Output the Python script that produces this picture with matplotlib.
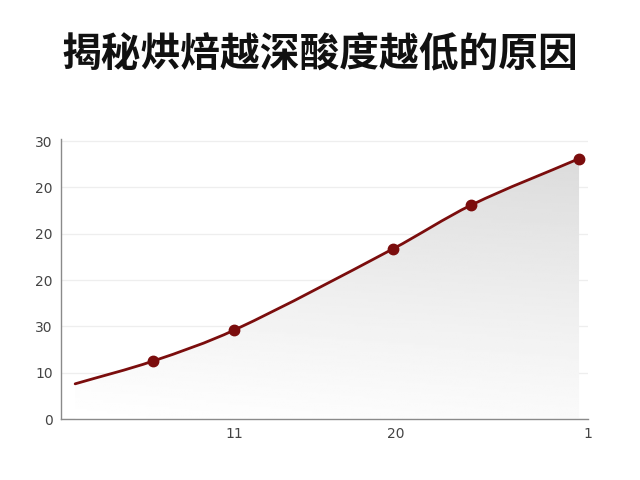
import numpy as np
import matplotlib
matplotlib.use("Agg")
import matplotlib.pyplot as plt
from matplotlib.path import Path
from matplotlib.patches import PathPatch

plt.rcParams["font.family"] = ["Noto Sans CJK SC", "DejaVu Sans"]

TITLE = "揭秘烘焙越深酸度越低的原因"

# curve points (x in axis units 0..10, y in tick-slot units)
x_vals = [0.27, 1.75, 3.30, 6.32, 7.82, 9.87]
y_vals = [0.76, 1.25, 1.92, 3.67, 4.62, 5.62]
marker_idx = [1, 2, 3, 4, 5]

y_tick_pos = [0, 1, 2, 3, 4, 5, 6]
y_tick_labels = ["0", "10", "30", "20", "20", "20", "30"]
x_tick_pos = [3.30, 6.38, 10.04]
x_tick_labels = ["11", "20", "1"]

LINE_COLOR = "#7b0d0d"


def smooth_path(xs, ys):
    """Hermite curve in x through the points, as cubic Bezier segments."""
    xs = np.asarray(xs, float)
    ys = np.asarray(ys, float)
    n = len(xs)
    slopes = np.empty(n)
    slopes[0] = (ys[1] - ys[0]) / (xs[1] - xs[0])
    slopes[-1] = (ys[-1] - ys[-2]) / (xs[-1] - xs[-2])
    for i in range(1, n - 1):
        slopes[i] = (ys[i + 1] - ys[i - 1]) / (xs[i + 1] - xs[i - 1])
    verts = [(xs[0], ys[0])]
    codes = [Path.MOVETO]
    for i in range(n - 1):
        h = (xs[i + 1] - xs[i]) / 3.0
        verts += [(xs[i] + h, ys[i] + slopes[i] * h),
                  (xs[i + 1] - h, ys[i + 1] - slopes[i + 1] * h),
                  (xs[i + 1], ys[i + 1])]
        codes += [Path.CURVE4] * 3
    return np.array(verts), codes


fig = plt.figure(figsize=(6.4, 4.8), dpi=100)
fig.patch.set_facecolor("white")
ax = fig.add_axes([0.0953, 0.127, 0.8234, 0.584])
ax.set_xlim(0, 10)
ax.set_ylim(0, 6.05)

verts, codes = smooth_path(x_vals, y_vals)

# gradient fill under the curve: grey near the line, white at the bottom
fill_verts = np.vstack([verts, [[x_vals[-1], 0], [x_vals[0], 0], verts[0]]])
fill_codes = codes + [Path.LINETO, Path.LINETO, Path.CLOSEPOLY]
fill_patch = PathPatch(Path(fill_verts, fill_codes), facecolor="none",
                       edgecolor="none")
ax.add_patch(fill_patch)
gx = np.linspace(0, 1, 256)
gy = np.linspace(0, 1, 128)
GX, GY = np.meshgrid(gx, gy)
shade = 1.0 - 0.13 * GY ** 1.1 - 0.02 * GX
img = ax.imshow(shade, cmap="gray", vmin=0, vmax=1, origin="lower",
                extent=[0, 10, 0, 6.05], aspect="auto", zorder=1)
img.set_clip_path(fill_patch)

line = PathPatch(Path(verts, codes), facecolor="none", edgecolor=LINE_COLOR,
                 linewidth=2.0, zorder=3, capstyle="round")
ax.add_patch(line)
ax.plot([x_vals[i] for i in marker_idx], [y_vals[i] for i in marker_idx],
        "o", color=LINE_COLOR, markersize=7.5, zorder=4)

ax.set_yticks(y_tick_pos)
ax.set_yticklabels(y_tick_labels)
ax.set_xticks(x_tick_pos)
ax.set_xticklabels(x_tick_labels)
ax.tick_params(length=0, labelsize=10, labelcolor="#444444", pad=6)
for lab in ax.get_xticklabels() + ax.get_yticklabels():
    lab.set_family("DejaVu Sans")
ax.grid(axis="y", color="#eeeeee", linewidth=0.9, zorder=0)
ax.set_axisbelow(True)
for side in ("top", "right"):
    ax.spines[side].set_visible(False)
for side in ("left", "bottom"):
    ax.spines[side].set_color("#8a8a8a")
    ax.spines[side].set_linewidth(1.0)

fig.text(0.5, 0.887, TITLE, ha="center", va="center", fontsize=28.6,
         fontweight="bold", color="#111111")

fig.savefig("out.png", dpi=100)
